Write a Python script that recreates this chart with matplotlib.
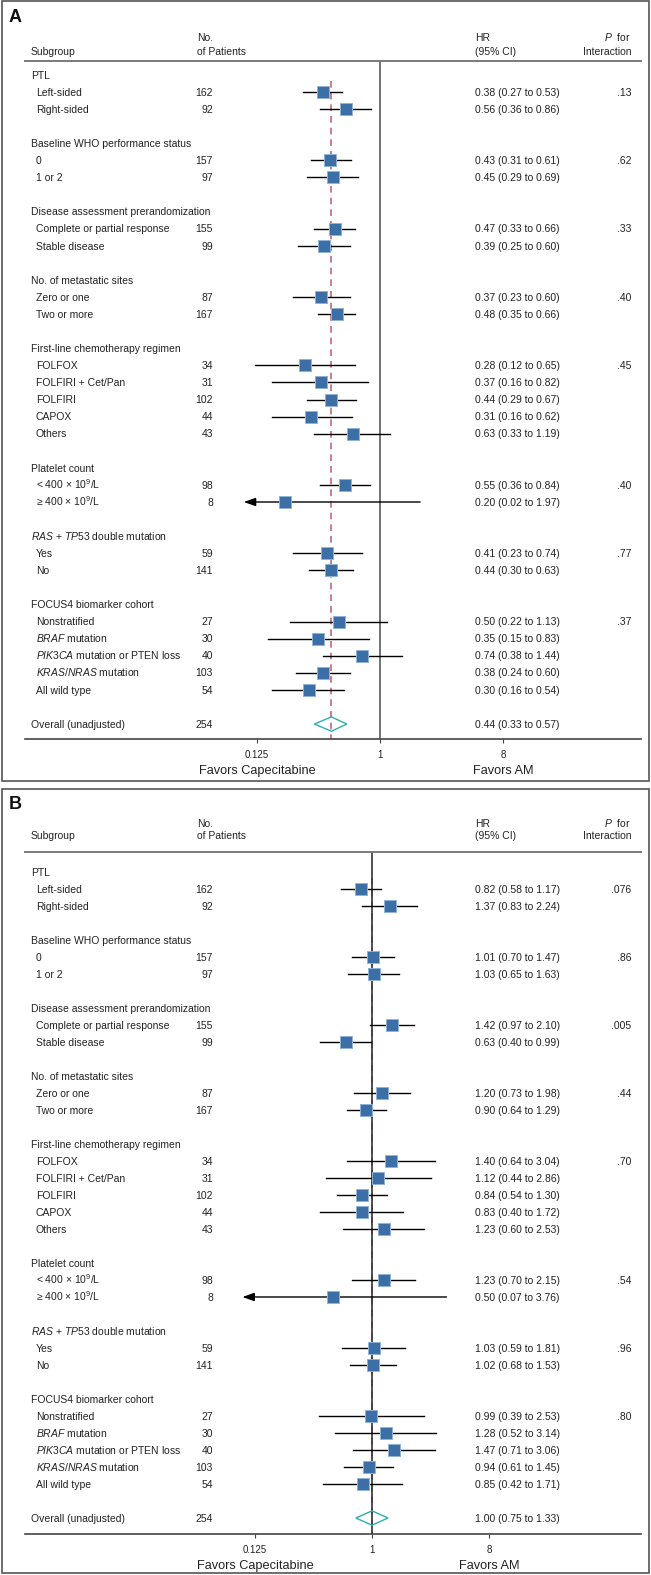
import matplotlib.pyplot as plt
import matplotlib.transforms as mtransforms
import matplotlib.font_manager as fm
from matplotlib.patches import Rectangle
from matplotlib.ticker import NullLocator

plt.rcParams['font.family'] = ['Liberation Sans', 'DejaVu Sans']
plt.rcParams['mathtext.fontset'] = 'custom'
plt.rcParams['mathtext.rm'] = 'Liberation Sans'
plt.rcParams['mathtext.it'] = 'Liberation Sans:italic'
plt.rcParams['mathtext.bf'] = 'Liberation Sans:bold'

# Data
group_titles = ["PTL", "Baseline WHO performance status",
                "Disease assessment prerandomization", "No. of metastatic sites",
                "First-line chemotherapy regimen", "Platelet count",
                r"$\mathit{RAS}$ + $\mathit{TP53}$ double mutation",
                "FOCUS4 biomarker cohort"]
group_sizes = [2, 2, 2, 2, 5, 2, 2, 5]
row_labels = ["Left-sided", "Right-sided", "0", "1 or 2",
              "Complete or partial response", "Stable disease",
              "Zero or one", "Two or more",
              "FOLFOX", "FOLFIRI + Cet/Pan", "FOLFIRI", "CAPOX", "Others",
              r"< 400 × 10$^{9}$/L", r"≥ 400 × 10$^{9}$/L",
              "Yes", "No",
              "Nonstratified", r"$\mathit{BRAF}$ mutation",
              r"$\mathit{PIK3CA}$ mutation or PTEN loss",
              r"$\mathit{KRAS/NRAS}$ mutation", "All wild type"]
n_patients = [162, 92, 157, 97, 155, 99, 87, 167, 34, 31, 102, 44, 43,
              98, 8, 59, 141, 27, 30, 40, 103, 54]
overall_label = "Overall (unadjusted)"
overall_n = 254

A_hr = [0.38, 0.56, 0.43, 0.45, 0.47, 0.39, 0.37, 0.48, 0.28, 0.37, 0.44,
        0.31, 0.63, 0.55, 0.20, 0.41, 0.44, 0.50, 0.35, 0.74, 0.38, 0.30]
A_lo = [0.27, 0.36, 0.31, 0.29, 0.33, 0.25, 0.23, 0.35, 0.12, 0.16, 0.29,
        0.16, 0.33, 0.36, 0.02, 0.23, 0.30, 0.22, 0.15, 0.38, 0.24, 0.16]
A_hi = [0.53, 0.86, 0.61, 0.69, 0.66, 0.60, 0.60, 0.66, 0.65, 0.82, 0.67,
        0.62, 1.19, 0.84, 1.97, 0.74, 0.63, 1.13, 0.83, 1.44, 0.60, 0.54]
A_p = [".13", ".62", ".33", ".40", ".45", ".40", ".77", ".37"]
A_overall = (0.44, 0.33, 0.57)

B_hr = [0.82, 1.37, 1.01, 1.03, 1.42, 0.63, 1.20, 0.90, 1.40, 1.12, 0.84,
        0.83, 1.23, 1.23, 0.50, 1.03, 1.02, 0.99, 1.28, 1.47, 0.94, 0.85]
B_lo = [0.58, 0.83, 0.70, 0.65, 0.97, 0.40, 0.73, 0.64, 0.64, 0.44, 0.54,
        0.40, 0.60, 0.70, 0.07, 0.59, 0.68, 0.39, 0.52, 0.71, 0.61, 0.42]
B_hi = [1.17, 2.24, 1.47, 1.63, 2.10, 0.99, 1.98, 1.29, 3.04, 2.86, 1.30,
        1.72, 2.53, 2.15, 3.76, 1.81, 1.53, 2.53, 3.14, 3.06, 1.45, 1.71]
B_p = [".076", ".86", ".005", ".44", ".70", ".54", ".96", ".80"]
B_overall = (1.00, 0.75, 1.33)

tick_values = [0.125, 1, 8]
tick_labels = ["0.125", "1", "8"]
favors_left = "Favors Capecitabine"
favors_right = "Favors AM"
arrow_clip = 0.1

W, H = 651, 1575
TXT = '#222222'
SQ_FACE = '#3b6fa6'
SQ_EDGE = '#8fb3d9'
DASH = '#c4667e'
TEAL = '#2bb0a8'
FS = 7.5
BASE_OFF = 3.7   # px from visual text centre down to baseline

names = {f.name for f in fm.fontManager.ttflist}
if 'Liberation Sans Narrow' in names:
    favors_font, favors_size = 'Liberation Sans Narrow', 10.8
else:
    favors_font, favors_size = 'Liberation Sans', 9.2


def fx(x):
    return x / W


def fy(y):
    return 1 - y / H


def row_positions():
    """row index of each group title, each subgroup and the overall line"""
    title_rows, item_rows = [], []
    r = 0
    for k in group_sizes:
        title_rows.append(r)
        item_rows.extend(range(r + 1, r + 1 + k))
        r += k + 2
    return title_rows, item_rows, r


def draw_panel(fig, lay, hr, lo, hi, pvals, overall):
    title_rows, item_rows, overall_row = row_positions()
    pitch = lay['pitch']
    top_px, bot_px = lay['ax']
    ymin = (top_px - lay['row0']) / pitch
    ymax = (bot_px - lay['row0']) / pitch
    one, ppd = lay['one_px'], lay['ppd']
    ax = fig.add_axes([fx(25), fy(bot_px), (641 - 25) / W,
                       (bot_px - top_px) / H])
    ax.set_xscale('log', base=2)
    ax.set_xlim(2 ** ((25 - one) / ppd), 2 ** ((641 - one) / ppd))
    ax.set_ylim(ymax, ymin)
    ax.patch.set_alpha(0)
    for s in ['left', 'right']:
        ax.spines[s].set_visible(False)
    ax.spines['top'].set_color('#7a7a7a')
    ax.spines['top'].set_linewidth(1.4)
    ax.spines['bottom'].set_color('#444444')
    ax.spines['bottom'].set_linewidth(1.2)
    ax.set_yticks([])
    ax.set_xticks(tick_values)
    ax.set_xticklabels(tick_labels)
    ax.xaxis.set_minor_locator(NullLocator())
    ax.tick_params(axis='x', length=3, width=0.8, color='#444444',
                   labelsize=7, labelcolor=TXT, pad=5)

    # reference lines
    ax.plot([overall[0], overall[0]], [0.35, ymax], ls=(0, (4, 3)),
            color=DASH, lw=1.2, zorder=2)
    ax.axvline(1, color=lay['vcol'], lw=1.2, zorder=2.5)

    # CIs and point estimates
    for i, r in enumerate(item_rows):
        if lo[i] < arrow_clip:
            ax.annotate('', xy=(arrow_clip, r), xytext=(hi[i], r),
                        arrowprops=dict(arrowstyle='-|>,head_length=0.7,head_width=0.25',
                                        color='black', lw=1.0,
                                        shrinkA=0, shrinkB=0), zorder=3)
        else:
            ax.plot([lo[i], hi[i]], [r, r], color='black', lw=1.0, zorder=3)
    ax.plot(hr, item_rows, 's', ms=8.3, mfc=SQ_FACE, mec=SQ_EDGE, mew=0.7,
            zorder=4)
    h = 0.42
    ax.fill([overall[1], overall[0], overall[2], overall[0]],
            [overall_row, overall_row - h, overall_row, overall_row + h],
            fill=False, edgecolor=TEAL, lw=1.0, zorder=4)

    # table text, placed on the baseline so plain and italic text line up
    tr = mtransforms.blended_transform_factory(fig.transFigure, ax.transData)
    off = BASE_OFF / pitch
    kw = dict(transform=tr, fontsize=FS, color=TXT, va='baseline')
    for g, r in enumerate(title_rows):
        ax.text(fx(31), r + off, group_titles[g], ha='left', **kw)
        ax.text(fx(631), r + 1 + off, pvals[g], ha='right', **kw)
    for i, r in enumerate(item_rows):
        ax.text(fx(36), r + off, row_labels[i], ha='left', **kw)
        ax.text(fx(213), r + off, str(n_patients[i]), ha='right', **kw)
        ax.text(fx(475), r + off,
                "%.2f (%.2f to %.2f)" % (hr[i], lo[i], hi[i]), ha='left', **kw)
    ax.text(fx(31), overall_row + off, overall_label, ha='left', **kw)
    ax.text(fx(213), overall_row + off, str(overall_n), ha='right', **kw)
    ax.text(fx(475), overall_row + off, "%.2f (%.2f to %.2f)" % overall,
            ha='left', **kw)

    # header
    fkw = dict(transform=fig.transFigure, fontsize=FS, color=TXT,
               va='baseline')
    y1 = fy(lay['head'][0] + BASE_OFF)
    y2 = fy(lay['head'][1] + BASE_OFF)
    fig.text(fx(31), y2, "Subgroup", ha='left', **fkw)
    fig.text(fx(197), y1, "No.", ha='left', **fkw)
    fig.text(fx(197), y2, "of Patients", ha='left', **fkw)
    fig.text(fx(475), y1, "HR", ha='left', **fkw)
    fig.text(fx(475), y2, "(95% CI)", ha='left', **fkw)
    fig.text(fx(631), y1, r"$\mathit{P}$  for", ha='right', **fkw)
    fig.text(fx(631), y2, "Interaction", ha='right', **fkw)
    fig.text(fx(9), fy(lay['label_y']), lay['label'], ha='left', va='center',
             fontsize=13, fontweight='bold', color='#111111')

    # favors labels
    tf = mtransforms.blended_transform_factory(ax.transData, fig.transFigure)
    for xv, s in [(tick_values[0], favors_left), (tick_values[2], favors_right)]:
        ax.text(xv, fy(lay['favors_y']), s, transform=tf, ha='center',
                va='center', fontsize=favors_size, family=favors_font,
                color=TXT)

    # panel frame
    b0, b1 = lay['box']
    fig.add_artist(Rectangle((fx(1.5), fy(b1)), (649 - 1.5) / W, (b1 - b0) / H,
                             transform=fig.transFigure, fill=False,
                             ec='#555555', lw=1.2))


panel_A = dict(label="A", box=(1.5, 781), ax=(61, 739), row0=75, pitch=17.08,
               head=(37, 51), label_y=17, favors_y=771,
               one_px=380, ppd=41, vcol='#5a5a5a')
panel_B = dict(label="B", box=(789, 1573), ax=(852, 1534), row0=872, pitch=17.0,
               head=(823, 835), label_y=805, favors_y=1566,
               one_px=372, ppd=39, vcol='#333333')

fig = plt.figure(figsize=(W / 100, H / 100), dpi=100)
draw_panel(fig, panel_A, A_hr, A_lo, A_hi, A_p, A_overall)
draw_panel(fig, panel_B, B_hr, B_lo, B_hi, B_p, B_overall)
fig.savefig('out.png', dpi=100)
plt.close(fig)
